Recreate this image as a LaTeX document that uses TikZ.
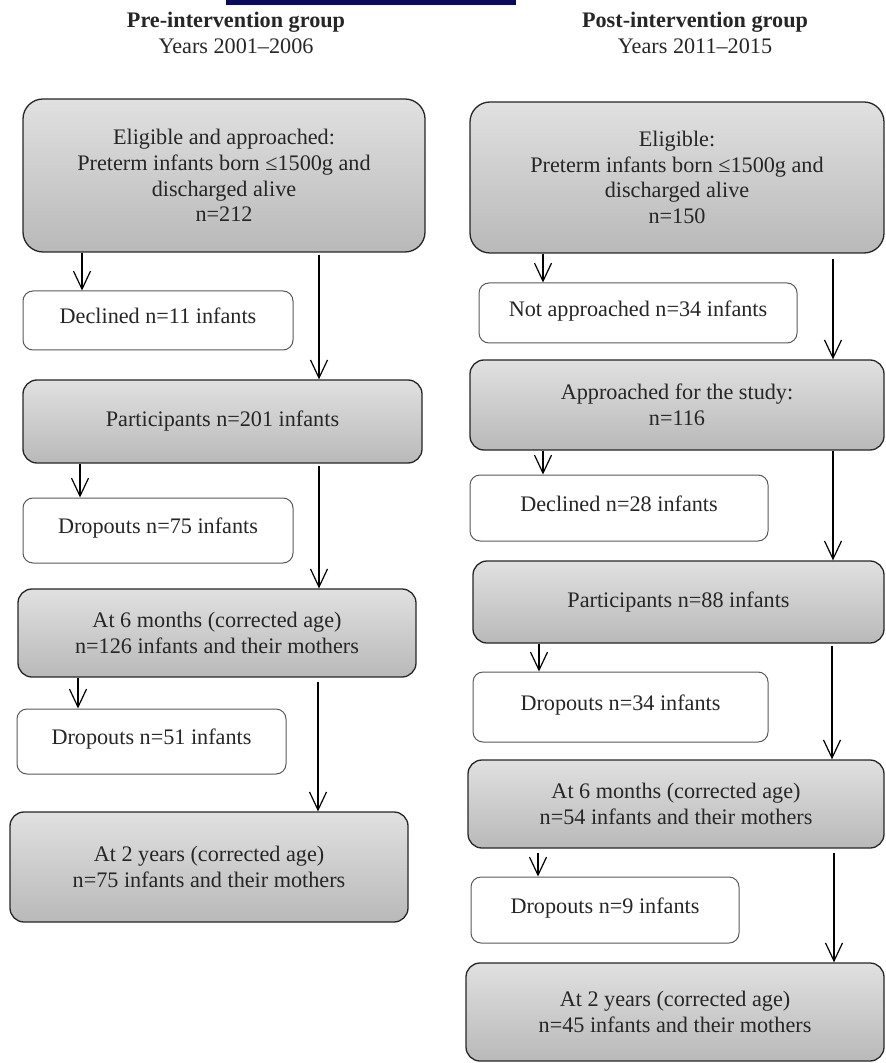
\documentclass[tikz,border=0pt]{standalone}
\usepackage{fontspec}
\setmainfont{Liberation Serif}
\usetikzlibrary{arrows.meta}

\definecolor{barblue}{HTML}{0B0B5C}

\begin{document}
\begin{tikzpicture}[
    x=0.5pt, y=-0.5pt,
    every node/.style={font=\fontsize{11.1}{12.9}\selectfont, text=black!85},
    stage/.style={draw=black!85, line width=0.65pt, rounded corners=7pt, top color=gray!24, bottom color=gray!55, align=center, inner sep=0pt},
    note/.style={draw=black!65, line width=0.5pt, rounded corners=5pt, fill=white, text height=7.5pt, text depth=4.2pt, inner sep=0pt},
    head/.style={align=center},
    arr/.style={-{Straight Barb[length=9pt, width=8.5pt]}, line width=0.6pt}]
\useasboundingbox (0,0) rectangle (885,1063);
\fill[barblue] (226,0) rectangle (516,5);

% headers
\node[head] (pre) at (236,33) {\textbf{Pre-intervention group}\\Years 2001–2006};
\node[head] (post) at (695,33) {\textbf{Post-intervention group}\\Years 2011–2015};

% pre-intervention column
\node[stage, rounded corners=10pt, minimum width=201pt, minimum height=76.5pt] (elig) at (224,175.5)
    {Eligible and approached:\\Preterm infants born ≤1500g and\\discharged alive\\n=212};
\node[note, minimum width=135pt, minimum height=29.5pt] (decl) at (158,320.5) {Declined n=11 infants};
\node[stage, minimum width=199.5pt, minimum height=41.5pt] (part) at (222.5,421.5) {Participants n=201 infants};
\node[note, minimum width=135pt, minimum height=32.5pt] (drop) at (158,530.5) {Dropouts n=75 infants};
\node[stage, minimum width=199pt, minimum height=44pt] (six) at (217,633)
    {At 6 months (corrected age)\\n=126 infants and their mothers};
\node[note, minimum width=134.5pt, minimum height=32.5pt] (dropsix) at (151.5,741.5) {Dropouts n=51 infants};
\node[stage, minimum width=199pt, minimum height=55pt] (two) at (209,867)
    {At 2 years (corrected age)\\n=75 infants and their mothers};

% post-intervention column
\node[stage, rounded corners=10pt, minimum width=207pt, minimum height=75.5pt] (eligpost) at (677,177.5)
    {Eligible:\\Preterm infants born ≤1500g and\\discharged alive\\n=150};
\node[note, minimum width=159pt, minimum height=30pt] (notappr) at (638,313) {Not approached n=34 infants};
\node[stage, minimum width=207pt, minimum height=45pt] (appr) at (677,405) {Approached for the study:\\n=116};
\node[note, minimum width=149pt, minimum height=33pt] (declpost) at (619,508) {Declined n=28 infants};
\node[stage, minimum width=205.5pt, minimum height=41pt] (partpost) at (678.5,602) {Participants n=88 infants};
\node[note, minimum width=147.5pt, minimum height=35pt] (droppost) at (620.5,707) {Dropouts n=34 infants};
\node[stage, minimum width=208pt, minimum height=44pt] (sixpost) at (676,804)
    {At 6 months (corrected age)\\n=54 infants and their mothers};
\node[note, minimum width=134pt, minimum height=33pt] (dropsixpost) at (605,910) {Dropouts n=9 infants};
\node[stage, minimum width=209pt, minimum height=49pt] (twopost) at (675,1012)
    {At 2 years (corrected age)\\n=45 infants and their mothers};

% arrows, pre
\draw[arr] (elig.south -| 82,0) -- (decl.north -| 82,0);
\draw[arr, shorten <=1pt] (elig.south -| 319,0) -- (part.north -| 319,0);
\draw[arr] (part.south -| 80,0) -- (drop.north -| 80,0);
\draw[arr, shorten <=1pt] (part.south -| 319,0) -- (six.north -| 319,0);
\draw[arr] (six.south -| 78,0) -- (dropsix.north -| 78,0);
\draw[arr, shorten <=2pt] (six.south -| 318,0) -- (two.north -| 318,0);

% arrows, post
\draw[arr] (eligpost.south -| 543,0) -- (notappr.north -| 543,0);
\draw[arr, shorten <=2.5pt] (eligpost.south -| 833,0) -- (appr.north -| 833,0);
\draw[arr] (appr.south -| 543,0) -- (declpost.north -| 543,0);
\draw[arr] (appr.south -| 833,0) -- (partpost.north -| 833,0);
\draw[arr] (partpost.south -| 539,0) -- (droppost.north -| 539,0);
\draw[arr, shorten <=1pt] (partpost.south -| 832,0) -- (sixpost.north -| 832,0);
\draw[arr, shorten <=2pt] (sixpost.south -| 538,0) -- (dropsixpost.north -| 538,0);
\draw[arr, shorten <=2pt] (sixpost.south -| 834,0) -- (twopost.north -| 834,0);
\end{tikzpicture}
\end{document}
